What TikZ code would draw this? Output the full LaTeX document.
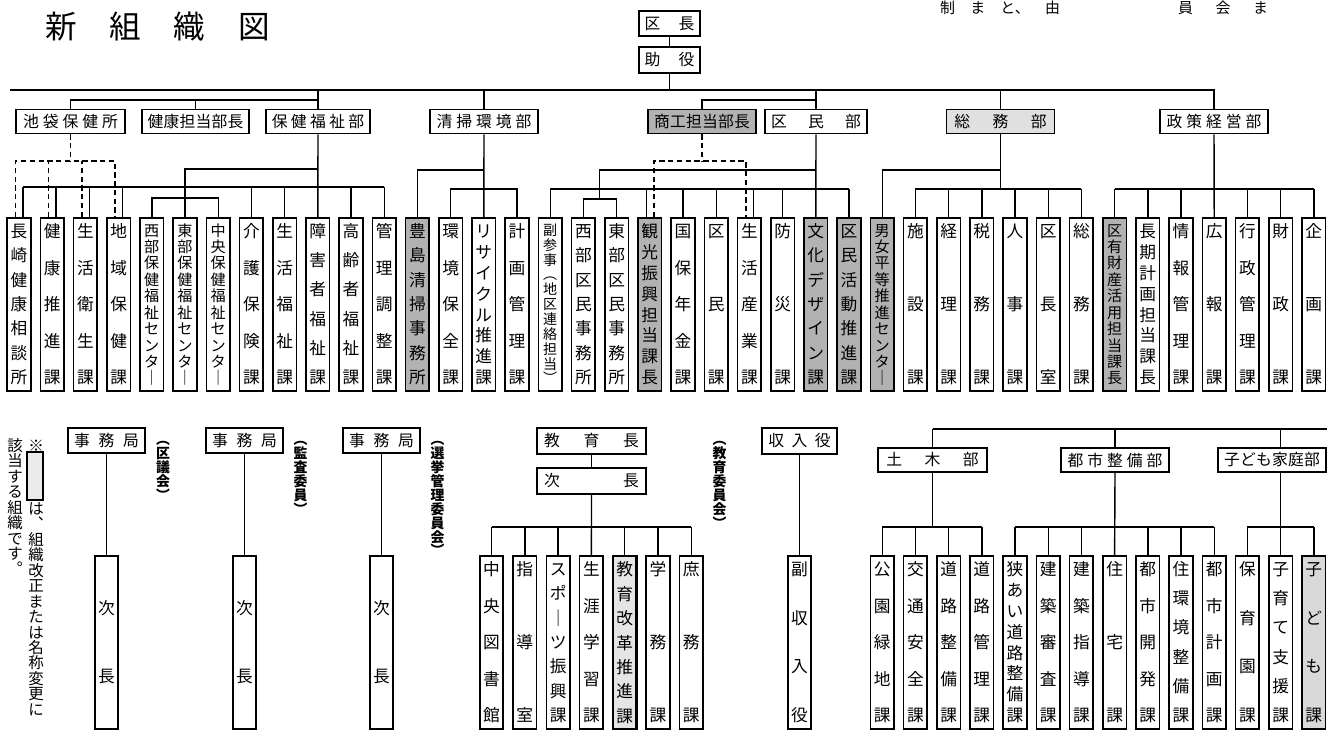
\documentclass[tikz,border=0pt]{standalone}
\usepackage{fontspec}
\setmainfont{Noto Sans CJK JP}
\usetikzlibrary{positioning,calc}

% vertical text, characters spread over the box height
\newcommand\tate[2][3.22cm]{%
  \parbox[c][#1][s]{1.2em}{\baselineskip=0pt\lineskip=0pt\lineskiplimit=0pt\relax
    \foreach \ch [count=\idx] in {#2}{\ifnum\idx>1 \vfill\fi
      \hbox to 1.2em{\hss\vrule width 0pt height .88em depth .12em\ch\hss}}}}
% vertical text, natural spacing
\newcommand\tatev[1]{%
  \vbox{\baselineskip=0pt\lineskip=0pt\lineskiplimit=0pt\relax
    \foreach \ch in {#1}{\hbox to 1.2em{\hss\vrule width 0pt height .88em depth .12em\ch\hss}}}}

\begin{document}
\begin{tikzpicture}[x=0.02cm, y=-0.02cm, line width=0.8pt,
    colbox/.style={draw, line width=0.9pt, minimum width=0.47cm, minimum height=3.46cm,
                   inner sep=0pt, anchor=north, font=\fontsize{9.5}{9.5}\selectfont},
    dense/.style={font=\fontsize{8.6}{8.6}\selectfont},
    grayed/.style={fill=black!30},
    dept/.style={draw, line width=0.9pt, minimum width=2.16cm, minimum height=0.48cm,
                 inner sep=0pt, font=\fontsize{9}{9}\selectfont},
    lbl/.style={inner sep=0pt, anchor=north, font=\fontsize{7.9}{7.9}\selectfont\bfseries},
    note/.style={inner sep=0pt, anchor=north, font=\fontsize{8.8}{8.8}\selectfont},
    frag/.style={inner sep=0pt, anchor=base, font=\fontsize{8.5}{8.5}\selectfont},
    dsh/.style={dash pattern=on 3pt off 2pt}
  ]
  \useasboundingbox (0,0) rectangle (1327,732);

  % title, text at the top edge
  \node[inner sep=0pt, font=\fontsize{18}{18}\selectfont] (title) at (157.5,27) {\makebox[4.5cm]{新\hfill 組\hfill 織\hfill 図}};
  \node[frag] (frag1) at (1000,14) {\makebox[2.4cm]{制\hfill ま\hfill と、\hfill 由}};
  \node[frag] (frag2) at (1223,14) {\makebox[1.8cm]{員\hfill 会\hfill ま}};

  % top
  \node[dept, minimum width=1.22cm, minimum height=0.5cm] (kucho) at (669.5,23.5) {\makebox[1cm]{区\hfill 長}};
  \node[dept, minimum width=1.22cm, minimum height=0.52cm] (joyaku) at (669.5,60) {\makebox[1cm]{助\hfill 役}};

  % departments
  \node[dept, minimum width=2.18cm] (p1) at (70.5,121.5) {\makebox[1.9cm]{池\hfill 袋\hfill 保\hfill 健\hfill 所}};
  \node[dept, minimum width=2.14cm] (p2) at (195.5,121.5) {\makebox[1.92cm]{健\hfill 康\hfill 担\hfill 当\hfill 部\hfill 長}};
  \node[dept, minimum width=2.07cm] (p3) at (318,121.5) {\makebox[1.85cm]{保\hfill 健\hfill 福\hfill 祉\hfill 部}};
  \node[dept] (p4) at (484,121.5) {\makebox[1.9cm]{清\hfill 掃\hfill 環\hfill 境\hfill 部}};
  \node[dept, grayed] (p5) at (702,121.5) {\makebox[1.92cm]{商\hfill 工\hfill 担\hfill 当\hfill 部\hfill 長}};
  \node[dept, minimum width=2.05cm] (p6) at (816,121.5) {\makebox[1.8cm]{区\hfill 民\hfill 部}};
  \node[dept, fill=black!12] (p7) at (1000.5,121.5) {\makebox[1.85cm]{総\hfill 務\hfill 部}};
  \node[dept] (p8) at (1214,121.5) {\makebox[1.9cm]{政\hfill 策\hfill 経\hfill 営\hfill 部}};

  % sections
  \node[colbox] (c0) at ({19+33.2*0},217) {\tate{長,崎,健,康,相,談,所}};
  \node[colbox] (c1) at ({19+33.2*1},217) {\tate{健,康,推,進,課}};
  \node[colbox] (c2) at ({19+33.2*2},217) {\tate{生,活,衛,生,課}};
  \node[colbox] (c3) at ({19+33.2*3},217) {\tate{地,域,保,健,課}};
  \node[colbox, dense] (c4) at ({19+33.2*4},217) {\tate{西,部,保,健,福,祉,セ,ン,タ,｜}};
  \node[colbox, dense] (c5) at ({19+33.2*5},217) {\tate{東,部,保,健,福,祉,セ,ン,タ,｜}};
  \node[colbox, dense] (c6) at ({19+33.2*6},217) {\tate{中,央,保,健,福,祉,セ,ン,タ,｜}};
  \node[colbox] (c7) at ({19+33.2*7},217) {\tate{介,護,保,険,課}};
  \node[colbox] (c8) at ({19+33.2*8},217) {\tate{生,活,福,祉,課}};
  \node[colbox] (c9) at ({19+33.2*9},217) {\tate{障,害,者,福,祉,課}};
  \node[colbox] (c10) at ({19+33.2*10},217) {\tate{高,齢,者,福,祉,課}};
  \node[colbox] (c11) at ({19+33.2*11},217) {\tate{管,理,調,整,課}};
  \node[colbox, grayed] (c12) at ({19+33.2*12},217) {\tate{豊,島,清,掃,事,務,所}};
  \node[colbox] (c13) at ({19+33.2*13},217) {\tate{環,境,保,全,課}};
  \node[colbox] (c14) at ({19+33.2*14},217) {\tate{リ,サ,イ,ク,ル,推,進,課}};
  \node[colbox] (c15) at ({19+33.2*15},217) {\tate{計,画,管,理,課}};
  \node[colbox, font=\fontsize{8}{8}\selectfont] (c16) at ({19+33.2*16},217) {\tate{副,参,事,︵,地,区,連,絡,担,当,︶}};
  \node[colbox] (c17) at ({19+33.2*17},217) {\tate{西,部,区,民,事,務,所}};
  \node[colbox] (c18) at ({19+33.2*18},217) {\tate{東,部,区,民,事,務,所}};
  \node[colbox, grayed] (c19) at ({19+33.2*19},217) {\tate{観,光,振,興,担,当,課,長}};
  \node[colbox] (c20) at ({19+33.2*20},217) {\tate{国,保,年,金,課}};
  \node[colbox] (c21) at ({19+33.2*21},217) {\tate{区,民,課}};
  \node[colbox] (c22) at ({19+33.2*22},217) {\tate{生,活,産,業,課}};
  \node[colbox] (c23) at ({19+33.2*23},217) {\tate{防,災,課}};
  \node[colbox, grayed] (c24) at ({19+33.2*24},217) {\tate{文,化,デ,ザ,イ,ン,課}};
  \node[colbox, grayed] (c25) at ({19+33.2*25},217) {\tate{区,民,活,動,推,進,課}};
  \node[colbox, grayed, dense] (c26) at ({19+33.2*26},217) {\tate{男,女,平,等,推,進,セ,ン,タ,｜}};
  \node[colbox] (c27) at ({19+33.2*27},217) {\tate{施,設,課}};
  \node[colbox] (c28) at ({19+33.2*28},217) {\tate{経,理,課}};
  \node[colbox] (c29) at ({19+33.2*29},217) {\tate{税,務,課}};
  \node[colbox] (c30) at ({19+33.2*30},217) {\tate{人,事,課}};
  \node[colbox] (c31) at ({19+33.2*31},217) {\tate{区,長,室}};
  \node[colbox] (c32) at ({19+33.2*32},217) {\tate{総,務,課}};
  \node[colbox, grayed, dense] (c33) at ({19+33.2*33},217) {\tate{区,有,財,産,活,用,担,当,課,長}};
  \node[colbox] (c34) at ({19+33.2*34},217) {\tate{長,期,計,画,担,当,課,長}};
  \node[colbox] (c35) at ({19+33.2*35},217) {\tate{情,報,管,理,課}};
  \node[colbox] (c36) at ({19+33.2*36},217) {\tate{広,報,課}};
  \node[colbox] (c37) at ({19+33.2*37},217) {\tate{行,政,管,理,課}};
  \node[colbox] (c38) at ({19+33.2*38},217) {\tate{財,政,課}};
  \node[colbox] (c39) at ({19+33.2*39},217) {\tate{企,画,課}};

  \foreach \n in {0,...,39} {
    \coordinate (l\n) at ($(c\n.north)+(-3.5,0)$);
    \coordinate (r\n) at ($(c\n.north)+(4,0)$);
  }

  % top connectors
  \coordinate (mainL) at (10,90);
  \draw (kucho) -- (joyaku);
  \draw (joyaku.south) -- (joyaku.south |- mainL);
  \draw (mainL) -- (p8.north |- mainL) -- (p8.north);
  \coordinate (subL) at (318,100);
  \draw (p3.north |- mainL) -- (p3.north);
  \draw (p1.north) |- (subL);
  \draw (p2.north) -- (p2.north |- subL);
  \draw (p4.north |- mainL) -- (p4.north);
  \coordinate (subK) at (816,100);
  \draw (p6.north |- mainL) -- (p6.north);
  \draw (p5.north) |- (subK);
  \draw (p7.north |- mainL) -- (p7.north);

  % 池袋保健所
  \coordinate (ikD) at (70.5,161);
  \draw[dsh] (p1.south) -- (ikD);
  \draw[dsh] (l0) |- (ikD) -| (l3);
  \draw[dsh] (l1) -- (l1 |- ikD);
  \draw[dsh] (l2) -- (l2 |- ikD);

  % 保健福祉部
  \coordinate (hfB) at (318,187);
  \draw (p3.south) -- (c9.north);
  \draw (r0 |- hfB) -- (c11.north |- hfB);
  \foreach \n in {0,...,3} \draw (r\n) -- (r\n |- hfB);
  \foreach \n in {7,8,10,11} \draw (c\n.north) -- (c\n.north |- hfB);
  \coordinate (hfC) at (318,169);
  \draw (hfC) -| (c5.north);
  \coordinate (hfS) at ({19+33.2*5},198);
  \draw (c4.north) |- (hfS) -| (c6.north);

  % 清掃環境部
  \draw (p4.south) -- (c14.north);
  \coordinate (seC) at (484,170);
  \draw (seC) -| (c12.north);
  \coordinate (seB) at (484,189);
  \draw (c13.north) |- (seB) -| (c15.north);

  % 区民部, 商工担当部長
  \draw (p6.south) -- (c24.north);
  \coordinate (kmC) at (816,170);
  \coordinate (kmW) at (599.75,199);
  \draw (kmC) -| (kmW);
  \draw (c17.north) |- (kmW) -| (c18.north);
  \coordinate (kmB) at (816,189);
  \draw (c16.north |- kmB) -- (c25.north |- kmB);
  \foreach \n in {16,20,21,23,25} \draw (c\n.north) -- (c\n.north |- kmB);
  \draw (l19) -- (l19 |- kmB);
  \draw (r22) -- (r22 |- kmB);
  \coordinate (skD) at (702,161);
  \draw[dsh] (p5.south) -- (skD);
  \draw[dsh] (r19) |- (skD) -| (l22);

  % 総務部
  \coordinate (smC) at (1000.5,170);
  \coordinate (smB) at (1000.5,189);
  \draw (p7.south) -- (smB);
  \draw (smC) -| (c26.north);
  \draw (c27.north |- smB) -- (c32.north |- smB);
  \foreach \n in {27,...,32} \draw (c\n.north) -- (c\n.north |- smB);

  % 政策経営部
  \coordinate (seiB) at (1214,189);
  \draw (p8.south) -- (c36.north);
  \draw (c33.north |- seiB) -- (c39.north |- seiB);
  \foreach \n in {33,34,35,37,38,39} \draw (c\n.north) -- (c\n.north |- seiB);

  % note
  \node[note] (kome) at (36,437) {\tatev{※}};
  \node[draw, line width=0.9pt, fill=black!8, minimum width=0.32cm, minimum height=0.96cm, inner sep=0pt] (legbox) at (35,476) {};
  \node[note] (note1) at (36,500) {\tatev{は,︑,組,織,改,正,ま,た,は,名,称,変,更,に}};
  \node[note] (note2) at (15,437) {\tatev{該,当,す,る,組,織,で,す,︒}};

  % 区議会, 監査委員, 選挙管理委員会
  \node[dept, minimum width=1.54cm, minimum height=0.5cm] (jm1) at (106.5,440.5) {\makebox[1.3cm]{事\hfill 務\hfill 局}};
  \node[dept, minimum width=1.54cm, minimum height=0.5cm] (jm2) at (244.5,440.5) {\makebox[1.3cm]{事\hfill 務\hfill 局}};
  \node[dept, minimum width=1.54cm, minimum height=0.5cm] (jm3) at (381.5,440.5) {\makebox[1.3cm]{事\hfill 務\hfill 局}};
  \node[colbox] (jc1) at (106.5,555) {\tate[1.65cm]{次,長}};
  \node[colbox] (jc2) at (244.5,555) {\tate[1.65cm]{次,長}};
  \node[colbox] (jc3) at (381.5,555) {\tate[1.65cm]{次,長}};
  \draw (jm1) -- (jc1);
  \draw (jm2) -- (jc2);
  \draw (jm3) -- (jc3);
  \node[lbl] (gikai) at (163,432) {\tatev{︵,区,議,会,︶}};
  \node[lbl] (kansa) at (300.5,432) {\tatev{︵,監,査,委,員,︶}};
  \node[lbl] (senkan) at (437.5,432) {\tatev{︵,選,挙,管,理,委,員,会,︶}};

  % 教育委員会
  \node[dept, minimum width=2.18cm, minimum height=0.52cm] (kyo) at (591.5,441) {\makebox[1.9cm]{教\hfill 育\hfill 長}};
  \node[dept, minimum width=2.18cm, minimum height=0.52cm] (jicho) at (591.5,481) {\makebox[1.9cm]{次\hfill 長}};
  \node[lbl] (kyoi) at (719.5,432) {\tatev{︵,教,育,委,員,会,︶}};
  \node[colbox] (e0) at ({491.5+33.3*0},555) {\tate{中,央,図,書,館}};
  \node[colbox] (e1) at ({491.5+33.3*1},555) {\tate{指,導,室}};
  \node[colbox] (e2) at ({491.5+33.3*2},555) {\tate{ス,ポ,｜,ツ,振,興,課}};
  \node[colbox] (e3) at ({491.5+33.3*3},555) {\tate{生,涯,学,習,課}};
  \node[colbox, fill=black!10, line width=1.4pt] (e4) at ({491.5+33.3*4},555) {\tate{教,育,改,革,推,進,課}};
  \node[colbox] (e5) at ({491.5+33.3*5},555) {\tate{学,務,課}};
  \node[colbox] (e6) at ({491.5+33.3*6},555) {\tate{庶,務,課}};
  \draw (kyo) -- (jicho);
  \coordinate (edB) at (591.5,527);
  \draw (jicho.south) -- (e3.north);
  \draw (e0.north |- edB) -- (e6.north |- edB);
  \foreach \n in {0,1,2,4,5,6} \draw (e\n.north) -- (e\n.north |- edB);

  % 収入役
  \node[dept, minimum width=1.5cm, minimum height=0.52cm] (shu) at (799.5,441) {\makebox[1.25cm]{収\hfill 入\hfill 役}};
  \node[colbox] (fuku) at (799.5,555) {\tate{副,収,入,役}};
  \draw (shu) -- (fuku);

  % 土木部, 都市整備部, 子ども家庭部
  \node[dept, minimum width=2.18cm] (t1) at (932.5,460) {\makebox[1.85cm]{土\hfill 木\hfill 部}};
  \node[dept] (t2) at (1115,460) {\makebox[1.9cm]{都\hfill 市\hfill 整\hfill 備\hfill 部}};
  \node[dept] (t3) at (1272,460) {\makebox[1.92cm]{子\hfill ど\hfill も\hfill 家\hfill 庭\hfill 部}};
  \node[colbox] (b0) at ({19+33.2*26},555) {\tate{公,園,緑,地,課}};
  \node[colbox] (b1) at ({19+33.2*27},555) {\tate{交,通,安,全,課}};
  \node[colbox] (b2) at ({19+33.2*28},555) {\tate{道,路,整,備,課}};
  \node[colbox] (b3) at ({19+33.2*29},555) {\tate{道,路,管,理,課}};
  \node[colbox] (b4) at ({19+33.2*30},555) {\tate{狭,あ,い,道,路,整,備,課}};
  \node[colbox] (b5) at ({19+33.2*31},555) {\tate{建,築,審,査,課}};
  \node[colbox] (b6) at ({19+33.2*32},555) {\tate{建,築,指,導,課}};
  \node[colbox] (b7) at ({19+33.2*33},555) {\tate{住,宅,課}};
  \node[colbox] (b8) at ({19+33.2*34},555) {\tate{都,市,開,発,課}};
  \node[colbox] (b9) at ({19+33.2*35},555) {\tate{住,環,境,整,備,課}};
  \node[colbox] (b10) at ({19+33.2*36},555) {\tate{都,市,計,画,課}};
  \node[colbox] (b11) at ({19+33.2*37},555) {\tate{保,育,園,課}};
  \node[colbox] (b12) at ({19+33.2*38},555) {\tate{子,育,て,支,援,課}};
  \node[colbox, fill=black!15] (b13) at ({19+33.2*39},555) {\tate{子,ど,も,課}};

  \coordinate (brL) at (932.5,429);
  \coordinate (brR) at (1327,429);
  \draw (brL) -- (brR);
  \draw (brL) -- (t1.north);
  \draw (t2.north |- brL) -- (t2.north);
  \draw (b12.north |- brL) -- (b12.north |- t3.north);
  \coordinate (dbB) at (932.5,527);
  \draw (t1.south) -- (dbB);
  \draw (b0.north |- dbB) -- (b3.north |- dbB);
  \foreach \n in {0,...,3} \draw (b\n.north) -- (b\n.north |- dbB);
  \coordinate (tsB) at (1115,527);
  \draw (t2.south) -- (b7.north);
  \draw (b4.north |- tsB) -- (b10.north |- tsB);
  \foreach \n in {4,5,6,8,9,10} \draw (b\n.north) -- (b\n.north |- tsB);
  \coordinate (kfB) at ({19+33.2*38},527);
  \draw (b12.north |- t3.south) -- (b12.north);
  \draw (b11.north |- kfB) -- (b13.north |- kfB);
  \foreach \n in {11,13} \draw (b\n.north) -- (b\n.north |- kfB);
\end{tikzpicture}
\end{document}
